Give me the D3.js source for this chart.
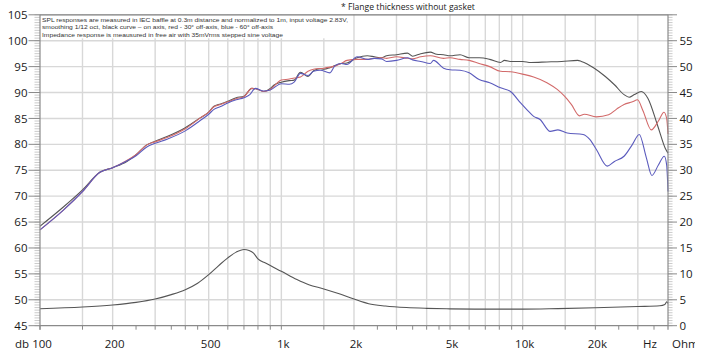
<!DOCTYPE html>
<html><head><meta charset="utf-8">
<script src="https://cdn.jsdelivr.net/npm/d3@7"></script>
<style>
html,body{margin:0;padding:0;background:#fff;}
svg text{font-family:"Open Sans",sans-serif;}
</style></head>
<body><svg id="c" width="715" height="359"></svg>
<script>
// ---- data ----
const xTickLabels = [[100,"100"],[200,"200"],[500,"500"],[1000,"1k"],[2000,"2k"],[5000,"5k"],[10000,"10k"],[20000,"20k"]];
const gridFreqs = [150,200,300,400,500,600,700,800,900,1000,1500,2000,3000,4000,5000,6000,7000,8000,9000,10000,15000,20000,30000];
const minorFreqs = [250,350,450,2500,3500,4500,25000,35000];
const dbTicks = [45,50,55,60,65,70,75,80,85,90,95,100,105];
const ohmTicks = [0,5,10,15,20,25,30,35,40,45,50,55];
const noteLines = [
  "SPL responses are measured in IEC baffle at  0.3m distance and normalized to 1m, input voltage 2.83V,",
  "smoothing 1/12 oct, black curve \u2013 on axis, red - 30\u00b0 off-axis, blue - 60\u00b0 off-axis",
  "Impedance response is meausured in free air with 35mVrms stepped sine voltage"
];
const title = "* Flange thickness without gasket";

const blackFreq = [100,125,150,177,200,229,250,277,300,336,400,461,500,524,560,600,650,700,755,800,845,900,930,1000,1080,1130,1200,1290,1360,1450,1500,1590,1670,1770,1870,2060,2270,2430,2600,2730,3000,3330,3500,3780,4140,4400,4700,5000,5500,6000,6600,7300,8100,8400,9000,10000,10800,12600,14500,16900,17500,19800,22000,24000,26300,27600,29000,31000,33000,36300,39000,40000];
const blackDb   = [64.2,67.9,71.2,74.6,75.5,76.7,78.0,79.9,80.6,81.5,83.2,85.1,86.2,87.3,87.8,88.3,89.0,89.3,90.8,90.6,90.2,90.8,91.4,92.0,92.3,92.4,93.9,93.1,94.2,94.6,94.5,94.8,95.2,95.6,95.7,96.7,97.1,96.9,96.7,97.1,97.3,97.6,97.0,97.5,97.8,97.4,97.3,97.1,97.3,96.7,96.7,96.4,95.8,96.2,96.0,96.0,95.8,95.9,96.0,96.2,96.0,94.7,93.1,91.5,89.6,89.1,89.6,90.2,88.9,83.5,79.2,78.3];

const redFreq = [100,125,150,177,200,229,250,277,300,336,400,461,500,524,560,600,650,700,755,800,845,900,1000,1080,1130,1200,1290,1360,1500,1590,1670,1770,1870,2060,2270,2430,2600,2730,3000,3330,3500,3780,4140,4700,5000,5500,6000,6600,7300,8100,8900,10100,11100,12600,13900,14900,15900,17200,18000,20200,22700,24500,26300,28500,29900,31500,34100,36500,38500,39500,40000];
const redDb   = [63.5,67.3,70.9,74.6,75.5,76.9,78.0,79.9,80.5,81.3,83.0,85.1,86.2,87.2,87.7,88.2,88.8,89.2,90.8,90.6,90.2,90.6,92.4,92.6,92.8,93.0,94.1,94.5,94.7,94.9,95.1,95.6,96.2,96.4,96.4,96.6,96.7,96.6,96.9,96.6,96.5,96.9,97.1,96.6,96.7,96.4,96.2,95.6,95.0,94.1,94.0,93.5,93.0,91.9,90.6,89.3,87.7,85.5,85.8,85.3,85.7,86.8,87.7,88.2,88.6,86.5,82.8,84.5,86.2,85.0,82.0];

const blueFreq = [100,125,150,177,200,229,250,277,300,336,400,461,500,524,560,600,650,700,740,780,845,900,1000,1080,1130,1200,1290,1360,1450,1590,1670,1770,1870,2060,2270,2430,2600,2730,3000,3330,3500,3780,4140,4270,4700,5000,5500,6000,6600,7300,8100,8900,9800,10400,11100,11800,13000,14000,15300,17800,19000,20200,22400,24000,26300,28500,30400,32500,34300,36500,38600,39500,40000];
const blueDb   = [63.5,67.3,70.9,74.6,75.5,76.8,77.8,79.5,80.2,81.0,82.6,84.6,85.8,86.7,87.3,88.0,88.6,89.0,89.6,90.8,90.3,90.5,91.7,91.6,92.0,93.7,93.3,94.1,94.3,93.8,95.2,95.6,95.4,96.9,96.4,96.6,96.5,96.0,96.2,96.7,96.3,96.0,95.6,96.2,94.7,94.4,94.3,93.8,92.5,91.9,90.9,90.2,88.0,86.7,85.4,84.8,82.5,82.8,82.2,81.9,80.9,79.0,75.8,76.7,77.7,80.0,81.9,77.5,74.0,76.0,77.7,76.0,70.9];

const impFreq = [100,150,200,250,300,350,400,450,500,550,600,650,700,735,767,800,860,900,1000,1160,1300,1500,1750,2000,2300,2700,3300,4000,5000,7000,10000,14000,20000,30000,37000,38800,39500,40000];
const impOhm  = [3.28,3.6,4.0,4.5,5.15,6.0,6.95,8.2,9.85,11.6,13.1,14.2,14.7,14.5,14.0,12.9,12.1,11.6,10.5,8.9,7.9,7.1,6.1,5.15,4.25,3.8,3.5,3.35,3.25,3.2,3.2,3.3,3.45,3.7,3.85,4.1,4.6,4.3];

// ---- chart ----
const svg = d3.select("#c");
const L = 40, R = 668, T = 14.8, B = 325.7;
const x = d3.scaleLog().domain([100, 40000]).range([L, R]);
const yDb = d3.scaleLinear().domain([45, 105]).range([B, T]);
const yOhm = d3.scaleLinear().domain([0, 60]).range([B, T]);
const gridC = "#d8d8d8", axisC = "#8a8a8a", textC = "#1a1a1a";

// gridlines
const g = svg.append("g");
g.selectAll(".vg").data(gridFreqs).join("line")
  .attr("x1", d => x(d)).attr("x2", d => x(d)).attr("y1", T).attr("y2", B)
  .attr("stroke", gridC).attr("stroke-width", 1.4);
g.selectAll(".hg").data(dbTicks.filter(d => d > 45 && d < 105)).join("line")
  .attr("x1", L).attr("x2", R).attr("y1", d => yDb(d)).attr("y2", d => yDb(d))
  .attr("stroke", gridC).attr("stroke-width", 1.4);

// note box
svg.append("rect").attr("x", L + 1).attr("y", T).attr("width", 310).attr("height", 23.5).attr("fill", "#fff");
const noteLen = [306, 231, 241];
svg.selectAll(".note").data(noteLines).join("text")
  .attr("x", 42).attr("y", (d, i) => 22 + i * 7.3)
  .attr("font-size", 6.2).attr("fill", "#333")
  .style("font-family", '"Liberation Sans", Arial, sans-serif')
  .attr("textLength", (d, i) => noteLen[i]).attr("lengthAdjust", "spacingAndGlyphs")
  .text(d => d);

// border/axes
svg.append("line").attr("x1", L).attr("x2", R).attr("y1", T).attr("y2", T).attr("stroke", "#7a7a7a").attr("stroke-width", 1.2);

// curves
const lineDb = d3.line().x(d => x(d[0])).y(d => yDb(d[1])).curve(d3.curveMonotoneX);
const lineOhm = d3.line().x(d => x(d[0])).y(d => yOhm(d[1])).curve(d3.curveMonotoneX);
const zip = (a, b) => a.map((v, i) => [v, b[i]]);
svg.append("path").attr("d", lineOhm(zip(impFreq, impOhm))).attr("fill", "none").attr("stroke", "#555").attr("stroke-width", 1.1);
svg.append("path").attr("d", lineDb(zip(blackFreq, blackDb))).attr("fill", "none").attr("stroke", "#555").attr("stroke-width", 1.1);
svg.append("path").attr("d", lineDb(zip(redFreq, redDb))).attr("fill", "none").attr("stroke", "#d26a6a").attr("stroke-width", 1.1);
svg.append("path").attr("d", lineDb(zip(blueFreq, blueDb))).attr("fill", "none").attr("stroke", "#5b5bbd").attr("stroke-width", 1.1);

// left axis with ruler ticks
const leftAxis = svg.append("g");
leftAxis.selectAll(".mt").data(d3.range(45, 105.01, 0.5)).join("line")
  .attr("x1", 34.5).attr("x2", L).attr("y1", d => yDb(d)).attr("y2", d => yDb(d))
  .attr("stroke", "#a8a8a8").attr("stroke-width", 0.6);
leftAxis.selectAll(".Mt").data(dbTicks).join("line")
  .attr("x1", 28.5).attr("x2", L).attr("y1", d => yDb(d)).attr("y2", d => yDb(d))
  .attr("stroke", axisC).attr("stroke-width", 1);
leftAxis.selectAll("text").data(dbTicks).join("text")
  .attr("x", 27.5).attr("y", d => yDb(d)).attr("dy", "0.36em").attr("text-anchor", "end")
  .attr("font-size", 11.5).attr("fill", textC).text(d => d);
svg.append("line").attr("x1", L).attr("x2", L).attr("y1", T).attr("y2", B + 4).attr("stroke", axisC).attr("stroke-width", 1.2);

// right axis
const rightAxis = svg.append("g");
rightAxis.selectAll(".mt").data(d3.range(0, 60.01, 0.5)).join("line")
  .attr("x1", R).attr("x2", R + 4.5).attr("y1", d => yOhm(d)).attr("y2", d => yOhm(d))
  .attr("stroke", "#a8a8a8").attr("stroke-width", 0.6);
rightAxis.selectAll(".Mt").data(ohmTicks.concat([60])).join("line")
  .attr("x1", R).attr("x2", R + 9).attr("y1", d => yOhm(d)).attr("y2", d => yOhm(d))
  .attr("stroke", axisC).attr("stroke-width", 1);
rightAxis.selectAll("text").data(ohmTicks).join("text")
  .attr("x", 679.5).attr("y", d => yOhm(d)).attr("dy", "0.36em")
  .attr("font-size", 11.5).attr("fill", textC).text(d => d);
svg.append("line").attr("x1", R).attr("x2", R).attr("y1", T).attr("y2", B + 4).attr("stroke", axisC).attr("stroke-width", 1.2);

// bottom axis
svg.append("line").attr("x1", L).attr("x2", R).attr("y1", B).attr("y2", B).attr("stroke", axisC).attr("stroke-width", 1.2);
svg.selectAll(".bt").data([100].concat(gridFreqs, minorFreqs)).join("line")
  .attr("x1", d => x(d)).attr("x2", d => x(d)).attr("y1", B).attr("y2", B + 4)
  .attr("stroke", axisC).attr("stroke-width", 1);
svg.selectAll(".xl").data(xTickLabels).join("text")
  .attr("x", d => x(d[0]) + 2).attr("y", 348).attr("text-anchor", "middle")
  .attr("font-size", 11.5).attr("fill", textC).text(d => d[1]);
svg.append("text").attr("x", 15).attr("y", 348).attr("font-size", 11.5).attr("fill", textC).text("db");
svg.append("text").attr("x", 650).attr("y", 348).attr("text-anchor", "middle").attr("font-size", 11.5).attr("fill", textC).text("Hz");
svg.append("clipPath").attr("id", "ohmclip").append("rect").attr("x", 660).attr("y", 330).attr("width", 35).attr("height", 29);
svg.append("text").attr("x", 672).attr("y", 348).attr("font-size", 11.5).attr("fill", textC).attr("clip-path", "url(#ohmclip)").text("Ohm");

// title note
svg.append("text").attr("x", 341).attr("y", 10).attr("font-size", 8.6).attr("fill", textC).text(title);
</script></body></html>
